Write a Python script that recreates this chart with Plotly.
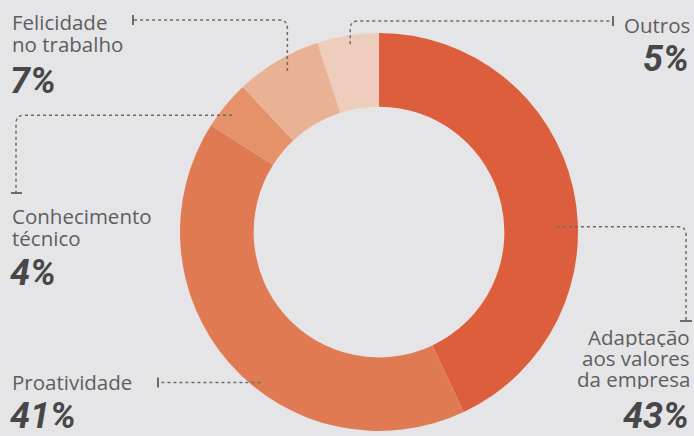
import math
import plotly.graph_objects as go

# ---------------- data ----------------
labels = ["Adaptação aos valores da empresa", "Proatividade", "Conhecimento técnico",
          "Felicidade no trabalho", "Outros"]
values = [43, 41, 4, 7, 5]
pct_text = ["43%", "41%", "4%", "7%", "5%"]
label_lines = [["Adaptação", "aos valores", "da empresa"], ["Proatividade"],
               ["Conhecimento", "técnico"], ["Felicidade", "no trabalho"], ["Outros"]]

# ---------------- style ----------------
W, H = 694, 436
BG = "#e5e5e7"
colors = ["#dd5e3d", "#e07a52", "#e5926b", "#eab294", "#eecdbd"]
CX, CY, R = 379, 232, 199
HOLE = 0.63
anchor_frac = [0.57, 0.42, 0.5, 0.5, 0.5]   # position of marker dot within slice
anchor_rad = [172, 188, 183, 180, 184]
LABEL_FONT = "Open Sans"
PCT_FONT = "Liberation Sans Narrow, Roboto, Arial, sans-serif"
LBL_COL = "#5d5d5f"
PCT_COL = "#474747"
LINE_COL = "#6f6a68"

fig = go.Figure()
fig.add_trace(go.Pie(
    labels=labels, values=values, sort=False, direction="clockwise", rotation=0,
    hole=HOLE, textinfo="none", hoverinfo="label+percent", showlegend=False,
    marker=dict(colors=colors, line=dict(width=0)),
    domain=dict(x=[(CX - R) / W, (CX + R) / W], y=[(H - CY - R) / H, (H - CY + R) / H]),
))

# anchor points computed from the data (clockwise from 12 o'clock)
total = sum(values)
anchors = []
cum = 0
for v, f, rr in zip(values, anchor_frac, anchor_rad):
    ang = (cum + v * f) / total * 2 * math.pi
    anchors.append((CX + rr * math.sin(ang), CY - rr * math.cos(ang)))
    cum += v

shapes = []
def dotted(path):
    shapes.append(dict(type="path", xref="x", yref="y", path=path,
                       line=dict(color=LINE_COL, width=1.5, dash="dot")))
def tick(x0, y0, x1, y1):
    shapes.append(dict(type="line", xref="x", yref="y", x0=x0, y0=y0, x1=x1, y1=y1,
                       line=dict(color=LINE_COL, width=2)))

rc = 8
# Adaptação: right then down
ax, ay = anchors[0]
dotted(f"M {ax+6},{ay} L {686-rc},{ay} Q 686,{ay} 686,{ay+rc} L 686,321")
tick(680, 321, 692, 321)
# Proatividade: left
ax, ay = anchors[1]
dotted(f"M {ax-6},{ay} L 158,{ay}")
tick(158, ay - 5, 158, ay + 5)
# Conhecimento: left then down
ax, ay = anchors[2]
dotted(f"M {ax-6},{ay} L {16+rc},{ay} Q 16,{ay} 16,{ay+rc} L 16,193")
tick(11, 193, 22, 193)
# Felicidade: up then left
ax, ay = anchors[3]
dotted(f"M {ax},{ay-6} L {ax},{20+rc} Q {ax},20 {ax-rc},20 L 133,20")
tick(133, 15, 133, 25)
# Outros: up then right
ax, ay = anchors[4]
dotted(f"M {ax},{ay-6} L {ax},{21+rc} Q {ax},21 {ax+rc},21 L 613,21")
tick(613, 16, 613, 26)

fig.add_trace(go.Scatter(
    x=[a[0] for a in anchors], y=[a[1] for a in anchors], mode="markers",
    marker=dict(symbol="circle-open", size=10, line=dict(width=2.4, color="#4e403b")),
    hoverinfo="skip", showlegend=False, xaxis="x", yaxis="y"))

ann = []
def txt(s, x, y, anchor, font, size, color, bold=False, h=None):
    d = dict(text=s, x=x, y=y, xref="x", yref="y", xanchor=anchor, yanchor="middle",
             showarrow=False, valign="middle",
             font=dict(family=font, size=size, color=color,
                       weight="bold" if bold else "normal",
                       style="italic" if bold else "normal"))
    if h:
        d["height"] = h
    ann.append(d)

LS = 20.5
PS = 36
LH = 21
PH = 30
# Adaptação (right aligned)
for s, y in zip(label_lines[0], [336, 357, 378]):
    txt(s, 692, y, "right", LABEL_FONT, LS, LBL_COL, h=LH)
txt(pct_text[0], 691, 416, "right", PCT_FONT, PS, PCT_COL, True, h=PH)
# Proatividade
txt(label_lines[1][0], 10, 381, "left", LABEL_FONT, LS, LBL_COL, h=LH)
txt(pct_text[1], 8, 416, "left", PCT_FONT, PS, PCT_COL, True, h=PH)
# Conhecimento
for s, y in zip(label_lines[2], [215, 237]):
    txt(s, 10, y, "left", LABEL_FONT, LS, LBL_COL, h=LH)
txt(pct_text[2], 8, 273, "left", PCT_FONT, PS, PCT_COL, True, h=PH)
# Felicidade
for s, y in zip(label_lines[3], [21, 43]):
    txt(s, 10, y, "left", LABEL_FONT, LS, LBL_COL, h=LH)
txt(pct_text[3], 8, 81, "left", PCT_FONT, PS, PCT_COL, True, h=PH)
# Outros
txt(label_lines[4][0], 692, 24, "right", LABEL_FONT, LS, LBL_COL, h=LH)
txt(pct_text[4], 691, 59, "right", PCT_FONT, PS, PCT_COL, True, h=PH)

fig.update_layout(
    width=W, height=H, autosize=False,
    margin=dict(l=0, r=0, t=0, b=0, pad=0),
    paper_bgcolor=BG, plot_bgcolor="rgba(0,0,0,0)",
    xaxis=dict(range=[0, W], visible=False, fixedrange=True, domain=[0, 1]),
    yaxis=dict(range=[H, 0], visible=False, fixedrange=True, domain=[0, 1]),
    shapes=shapes, annotations=ann,
)
fig.write_html("out.html", config={"displayModeBar": False})
